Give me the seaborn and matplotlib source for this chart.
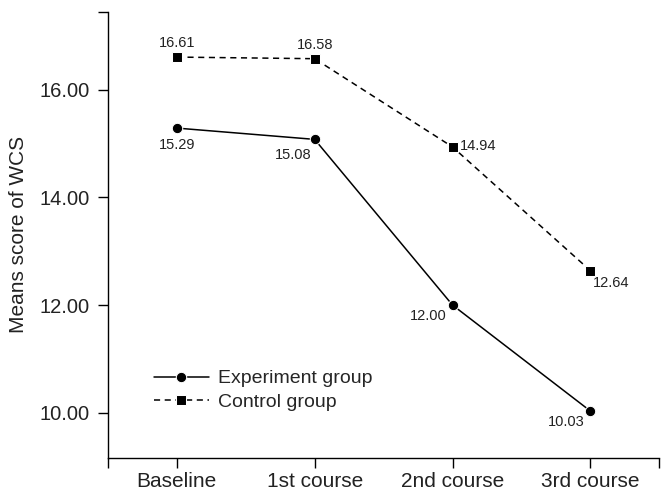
import matplotlib
matplotlib.use("Agg")
import matplotlib.pyplot as plt
import seaborn as sns
import pandas as pd

stages = ["Baseline", "1st course", "2nd course", "3rd course"]
experiment = [15.29, 15.08, 12.00, 10.03]
control = [16.61, 16.58, 14.94, 12.64]
groups = ["Experiment group", "Control group"]

sns.set_style("ticks")
plt.rcParams["font.family"] = ["Liberation Sans", "DejaVu Sans"]

df = pd.DataFrame({
    "stage": stages * 2,
    "score": experiment + control,
    "group": [groups[0]] * 4 + [groups[1]] * 4,
})

fig = plt.figure(figsize=(6.7, 4.96), dpi=100)
ax = fig.add_axes([0.161, 0.077, 0.823, 0.899])

sizes = [7.5, 6.5]
sns.lineplot(data=df, x="stage", y="score", style="group",
             markers={groups[0]: "o", groups[1]: "s"},
             dashes={groups[0]: "", groups[1]: (4, 3)},
             color="black", linewidth=1.1, ax=ax)
for line, ms in zip(ax.lines, sizes):
    line.set_markersize(ms)

# value labels: (offset x, offset y, ha, va) in points
exp_pos = [(0, -7, "center", "top"), (-2, -6, "right", "top"),
           (-4, -3, "right", "top"), (-4, -3, "right", "top")]
ctl_pos = [(0, 5, "center", "bottom"), (0, 5, "center", "bottom"),
           (5, 1, "left", "center"), (2, -4, "left", "top")]
for i, (v, p) in enumerate(zip(experiment, exp_pos)):
    ax.annotate(f"{v:.2f}", (i, v), xytext=p[:2], textcoords="offset points",
                ha=p[2], va=p[3], fontsize=10.5, color="#222222")
for i, (v, p) in enumerate(zip(control, ctl_pos)):
    ax.annotate(f"{v:.2f}", (i, v), xytext=p[:2], textcoords="offset points",
                ha=p[2], va=p[3], fontsize=10.5, color="#222222")

ax.set_xlim(-0.5, 3.5)
ax.set_ylim(9.16, 17.45)
ax.set_yticks([10, 12, 14, 16])
ax.set_yticklabels([f"{t:.2f}" for t in [10, 12, 14, 16]])
ax.set_yticks([17.45], minor=True)
ax.set_xticks([-0.5, 3.5], minor=True)
ax.tick_params(axis="both", which="both", direction="out", length=7, width=1,
               color="black", labelcolor="#222222")
ax.tick_params(axis="y", labelsize=14.5, pad=6)
ax.tick_params(axis="x", labelsize=15, pad=3)
ax.set_xlabel("")
ax.set_ylabel("Means score of WCS", fontsize=15, color="#222222", labelpad=8)
for s in ["top", "right"]:
    ax.spines[s].set_visible(False)
for s in ["left", "bottom"]:
    ax.spines[s].set_linewidth(1)
    ax.spines[s].set_color("black")

handles, labels = ax.get_legend_handles_labels()
leg = ax.legend(handles, labels, loc="upper left", bbox_to_anchor=(0.07, 0.215),
                frameon=False, fontsize=14, handlelength=2.8, handletextpad=0.5,
                labelspacing=0.3, borderaxespad=0)
for h, ms in zip(leg.get_lines(), sizes):
    h.set_markersize(ms)

fig.savefig("out.png", dpi=100)
